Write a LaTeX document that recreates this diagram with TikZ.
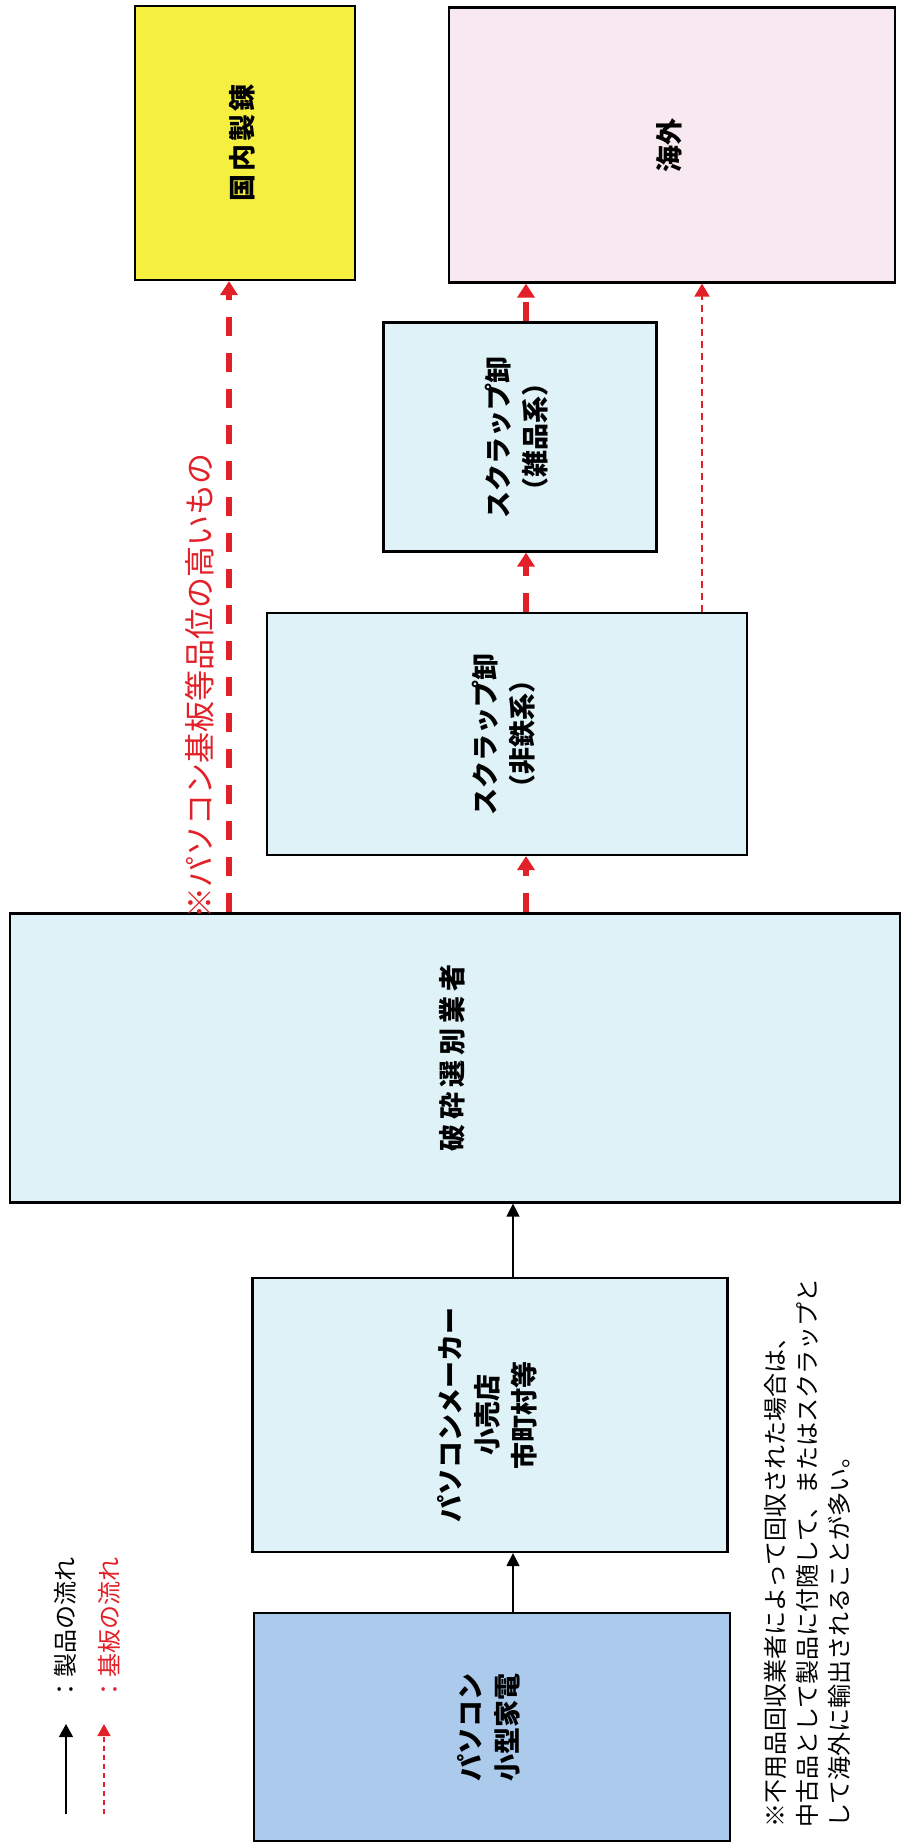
\documentclass[tikz,border=0pt]{standalone}
\usepackage{fontspec}
\usepackage{graphicx}
\setmainfont{Noto Sans CJK JP}
\usetikzlibrary{arrows.meta}
\definecolor{lblue}{RGB}{222,242,248}
\definecolor{dblue}{RGB}{172,202,236}
\definecolor{kyellow}{RGB}{245,240,64}
\definecolor{kpink}{RGB}{248,232,240}
\definecolor{kred}{RGB}{226,32,40}
\newcommand{\rl}[1]{\rotatebox{90}{\begin{tabular}{@{}c@{}}#1\end{tabular}}}
\begin{document}
\begin{tikzpicture}[x=1pt,y=-1pt,
  box/.style={draw=black, line width=2.2pt, inner sep=0pt, font=\bfseries\fontsize{27}{37}\selectfont},
  flow/.style={draw=black, line width=1.4pt, -{Triangle[width=13pt,length=13pt]}},
  sub/.style={draw=kred, line width=6pt, dash pattern=on 19pt off 17pt, -{Triangle[width=17pt,length=14pt]}},
  subthin/.style={draw=kred, line width=1.8pt, dash pattern=on 7pt off 5pt, -{Triangle[width=15pt,length=13pt]}},
  lbl/.style={rotate=90, inner sep=0pt}
]
\fill[white] (0,0) rectangle (907,1844);
\useasboundingbox (0,0) rectangle (907,1844);

% boxes
\node[box, fill=kyellow, minimum width=220pt, minimum height=274pt] (kokunai) at (245,143) {\addfontfeature{LetterSpace=12}\rl{国内製錬}};
\node[box, fill=kpink, minimum width=446pt, minimum height=275pt] (kaigai) at (672,145) {\rl{海外}};
\node[box, fill=lblue, minimum width=273pt, minimum height=229pt] (zappin) at (520,437) {\rl{スクラップ卸\\（雑品系）}};
\node[box, fill=lblue, minimum width=480pt, minimum height=242pt] (hitetsu) at (507,734) {\rl{スクラップ卸\\（非鉄系）}};
\node[box, fill=lblue, minimum width=890pt, minimum height=289pt] (hasai) at (455,1058) {\addfontfeature{LetterSpace=18}\rl{破砕選別業者}};
\node[box, fill=lblue, minimum width=475pt, minimum height=274pt] (maker) at (490,1415) {\rl{パソコンメーカー\\小売店\\市町村等}};
\node[box, fill=dblue, minimum width=476pt, minimum height=228pt] (pc) at (492,1727) {\rl{パソコン\\小型家電}};

% x positions of connectors
\coordinate (xb) at (513,0);
\coordinate (xk) at (229,0);
\coordinate (xm) at (526,0);
\coordinate (xt) at (702,0);

% product flow
\draw[flow] (pc.north -| xb) -- (maker.south -| xb);
\draw[flow] (maker.north -| xb) -- (hasai.south -| xb);

% board flow
\draw[sub] (hasai.north -| xk) -- (kokunai.south -| xk);
\draw[sub] (hasai.north -| xm) -- (hitetsu.south -| xm);
\draw[sub] (hitetsu.north -| xm) -- (zappin.south -| xm);
\draw[sub] (zappin.north -| xm) -- (kaigai.south -| xm);
\draw[subthin] (hitetsu.north -| xt) -- (kaigai.south -| xt);

\node[lbl, text=kred, font=\fontsize{31}{31}\selectfont] (note) at (200,686) {※パソコン基板等品位の高いもの};

% legend
\coordinate (la1) at (66,1814);
\coordinate (la2) at (66,1724);
\coordinate (lb1) at (104,1814);
\coordinate (lb2) at (104,1724);
\draw[flow, line width=1.3pt, -{Triangle[width=14pt,length=13pt]}] (la1) -- (la2);
\draw[subthin, line width=1.5pt, dash pattern=on 5pt off 4pt, -{Triangle[width=13pt,length=12pt]}] (lb1) -- (lb2);
\node[lbl, anchor=west, font=\fontsize{24}{24}\selectfont] (leg1) at (65,1702) {：製品の流れ};
\node[lbl, anchor=west, text=kred, font=\fontsize{24}{24}\selectfont] (leg2) at (109,1702) {：基板の流れ};

% footnote
\node[lbl, anchor=north west, align=left, font=\fontsize{24}{32}\selectfont] (foot) at (764,1828) {※不用品回収業者によって回収された場合は、\\中古品として製品に付随して、またはスクラップと\\して海外に輸出されることが多い。};
\end{tikzpicture}
\end{document}
